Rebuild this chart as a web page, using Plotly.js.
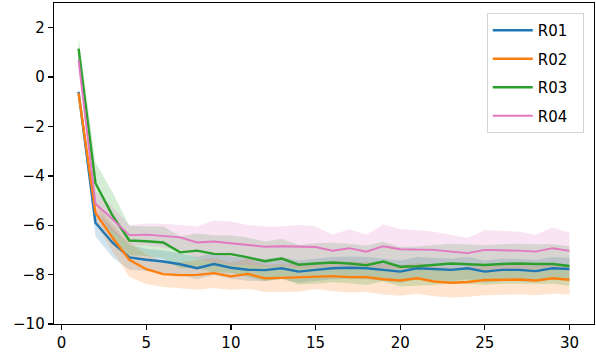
<!DOCTYPE html>
<html>
<head>
<meta charset="utf-8">
<script src="https://cdn.plot.ly/plotly-3.0.1.min.js"></script>
<style>html,body{margin:0;padding:0;background:#fff;}#chart{width:596px;height:354px;}</style>
</head>
<body>
<div id="chart"></div>
<script>
const steps = [1,2,3,4,5,6,7,8,9,10,11,12,13,14,15,16,17,18,19,20,21,22,23,24,25,26,27,28,29,30];
const seriesNames = ["R01","R02","R03","R04"];
const r01Mean = [-0.6,-5.9,-6.7,-7.3,-7.4,-7.47,-7.58,-7.74,-7.57,-7.72,-7.8,-7.82,-7.74,-7.88,-7.81,-7.74,-7.72,-7.74,-7.81,-7.88,-7.74,-7.77,-7.81,-7.74,-7.88,-7.81,-7.81,-7.86,-7.74,-7.77];
const r01Spread = [0.15,0.55,0.6,0.5,0.45,0.45,0.45,0.45,0.45,0.45,0.45,0.45,0.45,0.45,0.45,0.45,0.45,0.45,0.45,0.45,0.45,0.45,0.45,0.45,0.45,0.45,0.45,0.45,0.45,0.45];
const r02Mean = [-0.65,-5.5,-6.5,-7.4,-7.78,-7.98,-8.02,-8.01,-7.94,-8.07,-7.97,-8.15,-8.13,-8.11,-8.08,-8.06,-8.1,-8.1,-8.19,-8.24,-8.15,-8.28,-8.33,-8.3,-8.22,-8.2,-8.2,-8.24,-8.15,-8.21];
const r02Spread = [0.15,0.4,0.55,0.7,0.6,0.52,0.53,0.6,0.6,0.55,0.6,0.55,0.56,0.58,0.5,0.6,0.62,0.6,0.62,0.62,0.62,0.6,0.6,0.6,0.62,0.62,0.6,0.6,0.62,0.6];
const r03Mean = [1.15,-4.3,-5.6,-6.62,-6.65,-6.7,-7.1,-7.03,-7.16,-7.17,-7.3,-7.46,-7.35,-7.6,-7.55,-7.51,-7.55,-7.62,-7.47,-7.68,-7.66,-7.62,-7.55,-7.58,-7.61,-7.57,-7.55,-7.57,-7.57,-7.65];
const r03Spread = [0.5,0.85,0.95,0.6,0.6,0.65,0.65,0.7,0.75,0.75,0.8,0.8,0.8,0.8,0.82,0.8,0.8,0.8,0.8,0.8,0.8,0.8,0.8,0.8,0.8,0.8,0.8,0.8,0.8,0.8];
const r04Mean = [0.7,-5.13,-5.75,-6.4,-6.38,-6.43,-6.49,-6.7,-6.66,-6.73,-6.8,-6.87,-6.85,-6.86,-6.88,-7.03,-6.93,-7.07,-6.85,-6.97,-6.97,-7.0,-7.07,-7.13,-7.0,-7.0,-7.03,-7.07,-6.93,-7.04];
const r04Spread = [0.3,0.5,0.5,0.4,0.45,0.49,0.5,0.65,0.85,0.88,0.81,0.82,0.8,0.87,0.83,0.64,0.77,0.68,0.89,0.81,0.78,0.74,0.68,0.61,0.81,0.77,0.77,0.68,0.84,0.74];
const xTicks = [0,5,10,15,20,25,30];
const yTicks = [-10,-8,-6,-4,-2,0,2];

const means = [r01Mean, r02Mean, r03Mean, r04Mean];
const spreads = [r01Spread, r02Spread, r03Spread, r04Spread];
const colors = ["#1f77b4","#ff7f0e","#2ca02c","#e377c2"];
const fills = ["rgba(31,119,180,0.2)","rgba(255,127,14,0.2)","rgba(44,160,44,0.2)","rgba(227,119,194,0.2)"];
const widths = [2.4,2.4,2.4,1.9];

const traces = [];
for (let i = 0; i < 4; i++) {
  const upper = means[i].map((v, k) => v + spreads[i][k]);
  const lower = means[i].map((v, k) => v - spreads[i][k]);
  traces.push({
    x: steps.concat(steps.slice().reverse()),
    y: upper.concat(lower.slice().reverse()),
    type: "scatter", mode: "lines", fill: "toself",
    fillcolor: fills[i], line: {width: 0, color: "rgba(0,0,0,0)"},
    hoverinfo: "skip", showlegend: false, legendgroup: "g" + i
  });
}
for (let i = 0; i < 4; i++) {
  traces.push({
    x: steps, y: means[i], type: "scatter", mode: "lines",
    name: seriesNames[i] + "  ", line: {color: colors[i], width: widths[i]},
    legendgroup: "g" + i
  });
}

const font = {family: "DejaVu Sans", size: 15, color: "#000"};
const layout = {
  width: 596, height: 354,
  margin: {l: 54, r: 2, t: 3, b: 30},
  paper_bgcolor: "#fff", plot_bgcolor: "#fff",
  font: font,
  showlegend: true,
  legend: {
    x: 0.981, y: 0.969, xanchor: "right", yanchor: "top",
    bgcolor: "rgba(255,255,255,0.8)", bordercolor: "#d4d4d4", borderwidth: 1,
    font: font, tracegroupgap: 6, itemwidth: 40
  },
  xaxis: {
    range: [-0.45, 31.45], tickvals: xTicks, ticktext: xTicks.map(String),
    showgrid: false, zeroline: false, showline: true, linecolor: "#000", linewidth: 1.3,
    mirror: true, ticks: "outside", ticklen: 5, tickwidth: 1.3, tickcolor: "#000",
    tickfont: font
  },
  yaxis: {
    range: [-10, 3], tickvals: yTicks, ticktext: yTicks.map(v => v < 0 ? "\u2212" + Math.abs(v) : String(v)),
    showgrid: false, zeroline: false, showline: true, linecolor: "#000", linewidth: 1.3,
    mirror: true, ticks: "outside", ticklen: 5, tickwidth: 1.3, tickcolor: "#000",
    tickfont: font
  }
};
Plotly.newPlot("chart", traces, layout, {displayModeBar: false, staticPlot: true});
</script>
</body>
</html>
